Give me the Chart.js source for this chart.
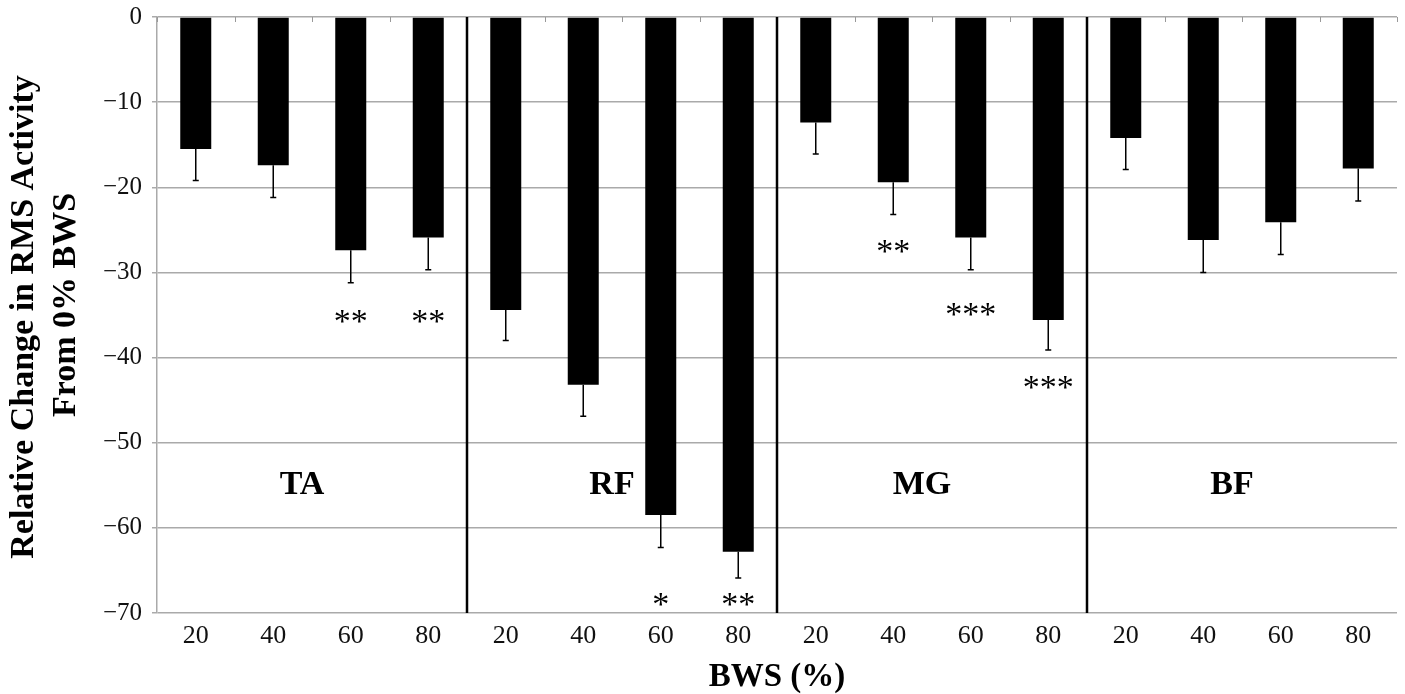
<!DOCTYPE html>
<html>
<head>
<meta charset="utf-8">
<script src="https://cdn.jsdelivr.net/npm/chart.js@4.4.1/dist/chart.umd.min.js"></script>
<style>
    html, body { margin: 0; padding: 0; background: #fff; }
    #wrap { width: 1405px; height: 694px; position: relative; }
</style>
</head>
<body>
<div id="wrap"><canvas id="rmsChart"></canvas></div>
<script>
// ============================================
// RMS activity vs BWS
// ============================================

const muscles = ['TA', 'RF', 'MG', 'BF'];
const bwsLevels = ['20', '40', '60', '80'];

// relative change from 0% BWS (per muscle, per BWS level)
const meanChange = [
    -15.5, -17.4, -27.4, -25.9,
    -34.4, -43.2, -58.5, -62.8,
    -12.4, -19.4, -25.9, -35.6,
    -14.2, -26.2, -24.1, -17.8
];
const errorSize = [
    3.7, 3.8, 3.8, 3.8,
    3.6, 3.7, 3.8, 3.1,
    3.7, 3.8, 3.8, 3.5,
    3.7, 3.8, 3.8, 3.8
];
const significance = [
    '', '', '**', '**',
    '', '', '*', '**',
    '', '**', '***', '***',
    '', '', '', ''
];
const markValue = [
    null, null, -35.3, -35.3,
    null, null, -68.6, -68.6,
    null, -27.1, -34.5, -43.1,
    null, null, null, null
];
const yTicks = [0, -10, -20, -30, -40, -50, -60, -70];
const yTitle = ['Relative Change in RMS Activity', 'From 0% BWS'];
const xTitle = 'BWS (%)';

const SERIF = '"Liberation Serif", "DejaVu Serif", serif';

const labels = muscles.flatMap(() => bwsLevels);

// Overlay: error bars, separators, labels, asterisks
const overlayPlugin = {
    id: 'overlay',
    afterDatasetsDraw(chart) {
        const ctx = chart.ctx;
        const x = chart.scales.x;
        const y = chart.scales.y;
        const area = chart.chartArea;
        const step = x.getPixelForValue(1) - x.getPixelForValue(0);

        ctx.save();

        // error bars (downward only)
        ctx.strokeStyle = '#000';
        ctx.lineWidth = 1.5;
        meanChange.forEach((v, i) => {
            const px = x.getPixelForValue(i);
            const top = y.getPixelForValue(v);
            const bot = y.getPixelForValue(v - errorSize[i]);
            ctx.beginPath();
            ctx.moveTo(px, top);
            ctx.lineTo(px, bot);
            ctx.moveTo(px - 3, bot);
            ctx.lineTo(px + 3, bot);
            ctx.stroke();
        });

        // small ticks on top axis
        ctx.strokeStyle = '#999';
        ctx.lineWidth = 1;
        for (let i = 0; i <= labels.length; i++) {
            const px = Math.round(x.getPixelForValue(0) - step / 2 + i * step) + 0.5;
            ctx.beginPath();
            ctx.moveTo(px, area.top);
            ctx.lineTo(px, area.top + 5);
            ctx.stroke();
        }

        // group separators
        ctx.strokeStyle = '#000';
        ctx.lineWidth = 2.5;
        for (let g = 1; g < muscles.length; g++) {
            const px = x.getPixelForValue(g * 4) - step / 2;
            ctx.beginPath();
            ctx.moveTo(px, area.top);
            ctx.lineTo(px, area.bottom);
            ctx.stroke();
        }

        // muscle labels
        ctx.fillStyle = '#000';
        ctx.font = 'bold 34px ' + SERIF;
        ctx.textAlign = 'center';
        ctx.textBaseline = 'middle';
        muscles.forEach((m, g) => {
            const cx = (x.getPixelForValue(g * 4 + 1) + x.getPixelForValue(g * 4 + 2)) / 2 - 10;
            ctx.fillText(m, cx, y.getPixelForValue(-55));
        });

        // significance asterisks
        ctx.font = '34px ' + SERIF;
        ctx.textBaseline = 'alphabetic';
        significance.forEach((s, i) => {
            if (!s) return;
            ctx.fillText(s, x.getPixelForValue(i), y.getPixelForValue(markValue[i]) + 14);
        });

        // y axis title
        ctx.font = 'bold 34px ' + SERIF;
        const midY = (area.top + area.bottom) / 2;
        [[33, midY + 2], [75, midY - 10]].forEach((pos, k) => {
            ctx.save();
            ctx.translate(pos[0], pos[1]);
            ctx.rotate(-Math.PI / 2);
            ctx.fillText(yTitle[k], 0, 0);
            ctx.restore();
        });

        ctx.restore();
    }
};

const chart = new Chart(document.getElementById('rmsChart'), {
    type: 'bar',
    data: {
        labels: labels,
        datasets: [{
            data: meanChange,
            backgroundColor: '#000',
            borderWidth: 0,
            barPercentage: 0.4,
            categoryPercentage: 1.0
        }]
    },
    options: {
        responsive: true,
        maintainAspectRatio: false,
        animation: false,
        layout: { padding: { top: 17, right: 8, left: 0, bottom: 0 } },
        plugins: {
            legend: { display: false },
            tooltip: { enabled: false }
        },
        scales: {
            x: {
                grid: { display: false },
                border: { display: false },
                ticks: {
                    color: '#111',
                    font: { family: SERIF, size: 26 },
                    padding: 0,
                    maxRotation: 0,
                    autoSkip: false
                },
                title: {
                    display: true,
                    text: xTitle,
                    color: '#000',
                    font: { family: SERIF, size: 33, weight: 'bold' },
                    padding: { top: 0, bottom: -3 }
                },
                afterFit(scale) {
                    scale.height = 81;
                    scale.paddingLeft = 0;
                    scale.paddingRight = 0;
                }
            },
            y: {
                min: -70,
                max: 0,
                afterBuildTicks(scale) {
                    scale.ticks = yTicks.map(v => ({ value: v }));
                },
                ticks: {
                    color: '#111',
                    font: { family: SERIF, size: 25 },
                    padding: 10,
                    callback: v => (v < 0 ? '\u2212' + Math.abs(v) : String(v))
                },
                grid: { color: '#aaa', lineWidth: 1.5, tickLength: 5 },
                border: { display: true, color: '#aaa', width: 1.5 },
                afterFit(scale) {
                    scale.width = 157;
                    scale.paddingTop = 0;
                    scale.paddingBottom = 0;
                }
            }
        }
    },
    plugins: [overlayPlugin]
});
</script>
</body>
</html>
